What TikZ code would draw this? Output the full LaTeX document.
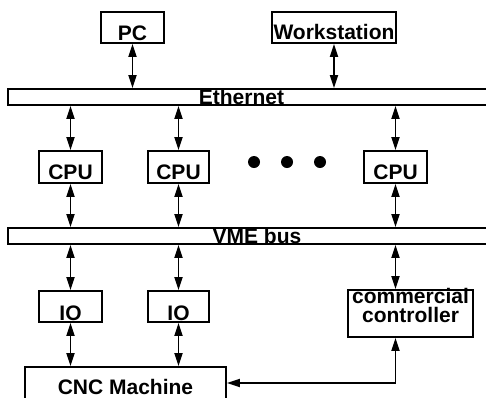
\documentclass[tikz,border=0pt]{standalone}
\usepackage{fontspec}
\setmainfont{Liberation Sans}
\usetikzlibrary{arrows.meta}
\begin{document}
\begin{tikzpicture}[x=1pt,y=-1pt,
  txt/.style={font=\fontsize{21}{19}\selectfont\bfseries},
  box/.style={txt, draw, line width=1.8pt, inner sep=0pt},
  bar/.style={draw, line width=1.8pt, inner sep=0pt, minimum height=16pt, minimum width=492pt},
  lbl/.style={txt, anchor=base, inner sep=0pt},
  link/.style={line width=1.8pt, {Triangle[length=13pt,width=8pt]}-{Triangle[length=13pt,width=8pt]}},
  bigdot/.style={circle, fill, inner sep=0pt, minimum size=12pt}]
\useasboundingbox (0,0) rectangle (486,397);
% top hosts
\node[box, minimum width=63pt, text height=28pt, text depth=3pt] (pc) at (132.5,27.5) {PC};
\node[box, minimum width=124pt, text height=27pt, text depth=4pt] (ws) at (334,27.5) {Workstation};
% Ethernet
\node[bar] (eth) at (254,97) {};
\node[lbl] (ethtext) at (241.5,104) {Ethernet};
% CPUs
\node[box, minimum width=63pt, text height=28pt, text depth=4pt] (cpu1) at (70.5,167) {CPU};
\node[box, minimum width=61pt, text height=28pt, text depth=4pt] (cpu2) at (178.5,167) {CPU};
\node[box, minimum width=63pt, text height=28pt, text depth=4pt] (cpu3) at (395.5,167) {CPU};
\node[bigdot] (d1) at (254,162) {};
\node[bigdot] (d2) at (287,162) {};
\node[bigdot] (d3) at (320,162) {};
% VME bus
\node[bar] (vme) at (254,236) {};
\node[lbl] (vmetext) at (257,243) {VME bus};
% IO and controller
\node[box, minimum width=63pt, text height=29pt, text depth=2pt] (io1) at (70.5,306.5) {IO};
\node[box, minimum width=61pt, text height=29pt, text depth=2pt] (io2) at (178.5,306.5) {IO};
\node[box, minimum width=125pt, text height=32pt, text depth=15pt, align=center] (ctrl) at (410.5,313.5) {commercial\\controller};
% CNC machine
\node[box, minimum width=201pt, text height=27pt, text depth=16pt] (cnc) at (125.5,388.5) {CNC Machine};
% connectors
\draw[link] (pc.south) -- (pc.south |- eth.north);
\draw[link] (ws.south) -- (ws.south |- eth.north);
\draw[link] (eth.south -| cpu1.north) -- (cpu1.north);
\draw[link] (eth.south -| cpu2.north) -- (cpu2.north);
\draw[link] (eth.south -| cpu3.north) -- (cpu3.north);
\draw[link] (cpu1.south) -- (cpu1.south |- vme.north);
\draw[link] (cpu2.south) -- (cpu2.south |- vme.north);
\draw[link] (cpu3.south) -- (cpu3.south |- vme.north);
\draw[link] (vme.south -| io1.north) -- (io1.north);
\draw[link] (vme.south -| io2.north) -- (io2.north);
\draw[link] (vme.south -| cpu3.north) -- (cpu3.north |- ctrl.north);
\draw[link] (io1.south) -- (io1.south |- cnc.north);
\draw[link] (io2.south) -- (io2.south |- cnc.north);
\coordinate (corner) at (395.5,383);
\draw[link] (corner |- ctrl.south) -- (corner) -- (cnc.east |- corner);
\end{tikzpicture}
\end{document}
